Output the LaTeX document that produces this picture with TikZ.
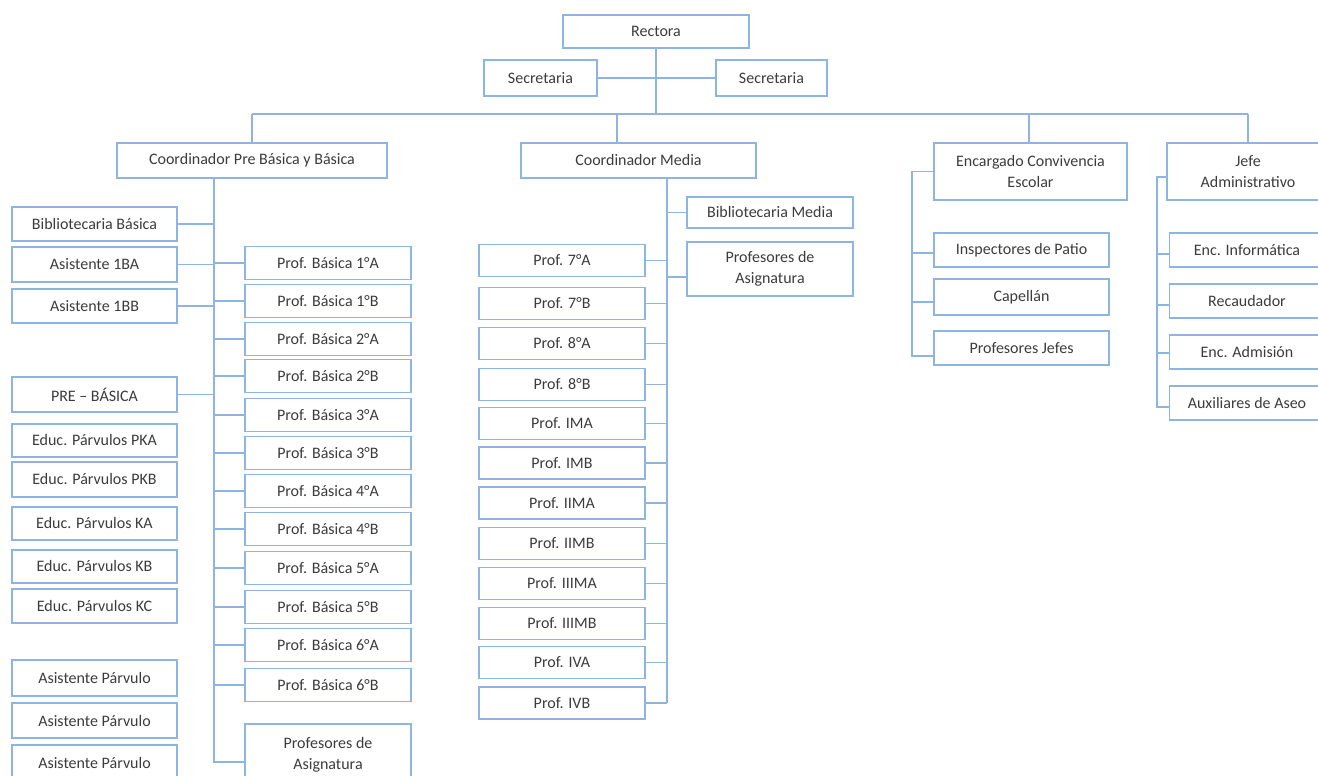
\documentclass[tikz,border=0pt]{standalone}
\usepackage{fontspec}
\setmainfont{Carlito}
\definecolor{ln}{RGB}{141,180,226}
\definecolor{tx}{RGB}{60,60,60}
\tikzset{
 box/.style={draw=ln, line width=1.4pt, fill=white, text=tx, inner sep=0pt, outer sep=0pt, align=center, font=\fontsize{16}{21}\selectfont},
 lbox/.style={box, minimum width=165, minimum height=34},
 pbox/.style={box, minimum width=166, minimum height=33},
 mbox/.style={box, minimum width=166, minimum height=32},
 ebox/.style={box, minimum width=175, minimum height=34},
 jbox/.style={box, minimum width=155, minimum height=34},
 conn/.style={draw=ln, line width=1.4pt},
}
\begin{document}
\begin{tikzpicture}[x=1pt,y=-1pt]
\clip (0,0) rectangle (1318,776);
\fill[white] (0,0) rectangle (1318,776);

% ---- top
\node[box,minimum width=186,minimum height=33] (rect) at (656,31.5) {Rectora};
\node[box,minimum width=113,minimum height=36] (sec1) at (540.5,78) {Secretaria};
\node[box,minimum width=111,minimum height=36] (sec2) at (771.5,78) {Secretaria};
\coordinate (busc) at (656,114);
\coordinate (busl) at (252,114);
\coordinate (busm) at (617,114);
\coordinate (buse) at (1029,114);
\coordinate (busr) at (1248,114);
\draw[conn] (sec1.east) -- (sec2.west);
\draw[conn] (rect.south) -- (busc);
\draw[conn] (busl) -- (busr);

% ---- second level
\node[box,minimum width=270,minimum height=35] (cpb) at (252,160.5) {Coordinador Pre Básica y Básica};
\node[box,minimum width=235,minimum height=35] (cm) at (638.5,160.5) {Coordinador Media};
\node[box,minimum width=193,minimum height=57] (ec) at (1030.5,171.5) {Encargado Convivencia\\Escolar};
\node[box,minimum width=162,minimum height=57] (ja) at (1248,171.5) {Jefe\\Administrativo};
\draw[conn] (busl) -- (cpb.north);
\draw[conn] (busm) -- (busm |- cm.north);
\draw[conn] (buse) -- (buse |- ec.north);
\draw[conn] (busr) -- (ja.north);

% ---- Pre Básica y Básica
\coordinate (pbend) at (214,762);
\node[lbox] (bb) at (94.5,224) {Bibliotecaria Básica};
\node[lbox,minimum height=35] (a1ba) at (94.5,264.5) {Asistente 1BA};
\node[lbox] (a1bb) at (94.5,306) {Asistente 1BB};
\node[lbox,minimum height=35] (preb) at (94.5,394.5) {PRE – BÁSICA};
\node[lbox,minimum height=33] (pka) at (94.5,440.5) {Educ. Párvulos PKA};
\node[lbox,minimum height=35] (pkb) at (94.5,479.5) {Educ. Párvulos PKB};
\node[lbox,minimum height=33] (ka) at (94.5,523.5) {Educ. Párvulos KA};
\node[lbox,minimum height=33] (kb) at (94.5,566.5) {Educ. Párvulos KB};
\node[lbox] (kc) at (94.5,606) {Educ. Párvulos KC};
\node[lbox,minimum height=36] (ap1) at (94.5,678) {Asistente Párvulo};
\node[lbox,minimum height=35] (ap2) at (94.5,720.5) {Asistente Párvulo};
\node[lbox,minimum height=35] (ap3) at (94.5,762.5) {Asistente Párvulo};
\foreach \nm in {bb,a1ba,a1bb,preb}
  \draw[conn] (\nm.east) -- (\nm.east -| pbend);

\foreach \nm/\yy/\txt in {pb1a/263/Prof. Básica 1°A, pb1b/301/Prof. Básica 1°B, pb2a/339/Prof. Básica 2°A, pb2b/376/Prof. Básica 2°B, pb3a/415/Prof. Básica 3°A, pb3b/453/Prof. Básica 3°B, pb4a/491/Prof. Básica 4°A, pb4b/529/Prof. Básica 4°B, pb5a/568/Prof. Básica 5°A, pb5b/607/Prof. Básica 5°B, pb6a/645/Prof. Básica 6°A, pb6b/685/Prof. Básica 6°B}{
  \node[pbox] (\nm) at (328,\yy) {\txt};
  \draw[conn] (\nm.west) -- (\nm.west -| pbend);
}
\node[box,minimum width=166,minimum height=62] (pasig) at (328,755) {Profesores de\\Asignatura};
\draw[conn] (cpb.south -| pbend) -- (pbend) -- (pbend -| pasig.west);

% ---- Media
\coordinate (mend) at (667,703);
\node[mbox,minimum height=31] (bm) at (770,212.5) {Bibliotecaria Media};
\node[box,minimum width=166,minimum height=54] (pam) at (770,269) {Profesores de\\Asignatura};
\coordinate (pamc) at (667,277);
\draw[conn] (bm.west) -- (bm.west -| mend);
\draw[conn] (pamc) -- (pamc -| pam.west);
\foreach \nm/\yy/\txt in {m7a/260.5/Prof. 7°A, m7b/303.5/Prof. 7°B, m8a/343.5/Prof. 8°A, m8b/384.5/Prof. 8°B, mima/423.5/Prof. IMA, mimb/463/Prof. IMB, miima/503/Prof. IIMA, miimb/543.5/Prof. IIMB, miiima/583.5/Prof. IIIMA, miiimb/623.5/Prof. IIIMB, miva/662.5/Prof. IVA, mivb/703/Prof. IVB}{
  \node[mbox] (\nm) at (562,\yy) {\txt};
  \draw[conn] (\nm.east) -- (\nm.east -| mend);
}
\draw[conn] (cm.south -| mend) -- (mend);

% ---- Encargado Convivencia Escolar
\coordinate (eb) at (912,356);
\node[ebox] (ip) at (1021.5,250) {Inspectores de Patio};
\node[ebox,minimum height=36] (cap) at (1021.5,297) {Capellán};
\node[ebox] (pj) at (1021.5,348) {Profesores Jefes};
\coordinate (ipc) at (912,253);
\coordinate (capc) at (912,302);
\draw[conn] (ec.west) -| (eb) -- (eb -| pj.west);
\draw[conn] (ipc) -- (ipc -| ip.west);
\draw[conn] (capc) -- (capc -| cap.west);

% ---- Jefe Administrativo
\coordinate (jt) at (1157,177);
\coordinate (jb) at (1157,407);
\node[jbox] (ei) at (1247,250) {Enc. Informática};
\node[jbox] (rec) at (1247,301) {Recaudador};
\node[jbox] (ead) at (1247,352) {Enc. Admisión};
\node[jbox] (aux) at (1247,403) {Auxiliares de Aseo};
\coordinate (eic) at (1157,254);
\coordinate (recc) at (1157,305);
\coordinate (eadc) at (1157,353);
\draw[conn] (jt -| ja.west) -- (jt) -- (jb) -- (jb -| aux.west);
\draw[conn] (eic) -- (eic -| ei.west);
\draw[conn] (recc) -- (recc -| rec.west);
\draw[conn] (eadc) -- (eadc -| ead.west);
\end{tikzpicture}
\end{document}
